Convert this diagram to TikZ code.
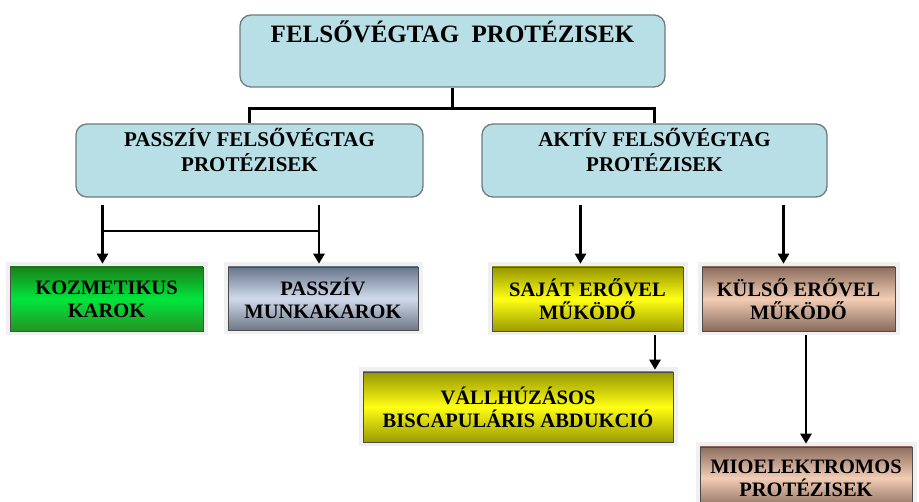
\documentclass[tikz,border=0pt]{standalone}
\usepackage{fontspec}
\setmainfont{Liberation Serif}
\usetikzlibrary{arrows.meta,positioning}

\definecolor{boxblue}{HTML}{B8DEE6}
\definecolor{boxedge}{HTML}{6F7B7D}

\begin{document}
\begin{tikzpicture}[x=1pt,y=-1pt,
        bluebox/.style={draw=boxedge, line width=1.3pt, fill=boxblue, rounded corners=11pt},
        toptext/.style={font=\bfseries\fontsize{25}{30}\selectfont, inner sep=0pt},
        midtext/.style={font=\bfseries\fontsize{21}{25}\selectfont, align=center, inner sep=0pt},
        grad/.style={draw=black!70, line width=0.6pt, preaction={draw=black!6, line width=9pt},
            align=center, inner sep=0pt, font=\bfseries\fontsize{20.5}{23}\selectfont},
        greenshade/.style={top color=green!45!black!90, bottom color=green!50!black!85, middle color={rgb,255:red,0;green,230;blue,60}},
        steelshade/.style={top color={rgb,255:red,104;green,118;blue,138}, bottom color={rgb,255:red,110;green,120;blue,134}, middle color={rgb,255:red,208;green,218;blue,236}},
        yellowshade/.style={top color={rgb,255:red,150;green,150;blue,0}, bottom color={rgb,255:red,155;green,155;blue,0}, middle color={rgb,255:red,255;green,255;blue,20}},
        tanshade/.style={top color={rgb,255:red,140;green,110;blue,95}, bottom color={rgb,255:red,135;green,106;blue,92}, middle color={rgb,255:red,242;green,204;blue,180}},
        conn/.style={line width=3.6pt},
        arr/.style={line width=2.6pt, -{Triangle[length=10pt,width=11pt]}}]

    \useasboundingbox (0,0) rectangle (919,502);

    % Main box
    \node[bluebox, minimum width=425pt, minimum height=72pt] (top) at (452.5,51) {};
    \node[toptext, anchor=base] (toptxt) at ([yshift=-28pt]top.north) {FELSŐVÉGTAG\ \ PROTÉZISEK};

    % Second level
    \node[bluebox, minimum width=347pt, minimum height=73pt] (passziv) at (249.5,160.5) {};
    \node[midtext, below=4.5pt of passziv.north] (passzivtxt) {PASSZÍV FELSŐVÉGTAG\\PROTÉZISEK};
    \node[bluebox, minimum width=345pt, minimum height=73pt] (aktiv) at (654.5,160.5) {};
    \node[midtext, below=4.5pt of aktiv.north] (aktivtxt) {AKTÍV FELSŐVÉGTAG\\PROTÉZISEK};

    % Shaded boxes
    \node[grad, greenshade, minimum width=193pt, minimum height=64pt] (kozm) at (106.5,299) {KOZMETIKUS\\KAROK};
    \node[grad, steelshade, minimum width=190pt, minimum height=63pt] (munka) at (323,298.5) {PASSZÍV\\MUNKAKAROK};
    \node[grad, yellowshade, minimum width=191pt, minimum height=64pt] (sajat) at (587.5,299) {SAJÁT ERŐVEL\\MŰKÖDŐ};
    \node[grad, tanshade, minimum width=193pt, minimum height=64pt] (kulso) at (798.5,299) {KÜLSŐ ERŐVEL\\MŰKÖDŐ};
    \node[grad, yellowshade, minimum width=310pt, minimum height=70pt] (vall) at (518,407) {VÁLLHÚZÁSOS\\BISCAPULÁRIS ABDUKCIÓ};
    \node[grad, tanshade, minimum width=212pt, minimum height=62pt] (mio) at (806,478) {MIOELEKTROMOS\\PROTÉZISEK};

    % Tree below the main box
    \draw[conn] (top.south) -- ++(0,21) coordinate (fork);
    \draw[conn] (passziv.north) |- (fork) -| (aktiv.north);

    % Passive branch
    \coordinate (bar) at (0,231);
    \foreach \t in {kozm,munka}
        \draw[arr] ([xshift=-4pt,yshift=-7pt]\t.north |- passziv.south) -- ([xshift=-4pt,yshift=3pt]\t.north);
    \draw[line width=2.6pt] ([xshift=-4pt]kozm.north |- bar) -- ([xshift=-4pt]munka.north |- bar);

    % Active branch
    \draw[arr] ([xshift=-7pt,yshift=-7pt]sajat.north |- aktiv.south) -- ([xshift=-7pt,yshift=3pt]sajat.north);
    \draw[arr] ([xshift=-15pt,yshift=-7pt]kulso.north |- aktiv.south) -- ([xshift=-15pt,yshift=3pt]kulso.north);

    % Lower arrows
    \coordinate (vallx) at (655,0);
    \draw[arr] ([yshift=-4pt]sajat.south -| vallx) -- ([yshift=2pt]vall.north -| vallx);
    \draw[arr] ([yshift=-4pt]kulso.south -| mio.north) -- ([yshift=3pt]mio.north);
\end{tikzpicture}
\end{document}
